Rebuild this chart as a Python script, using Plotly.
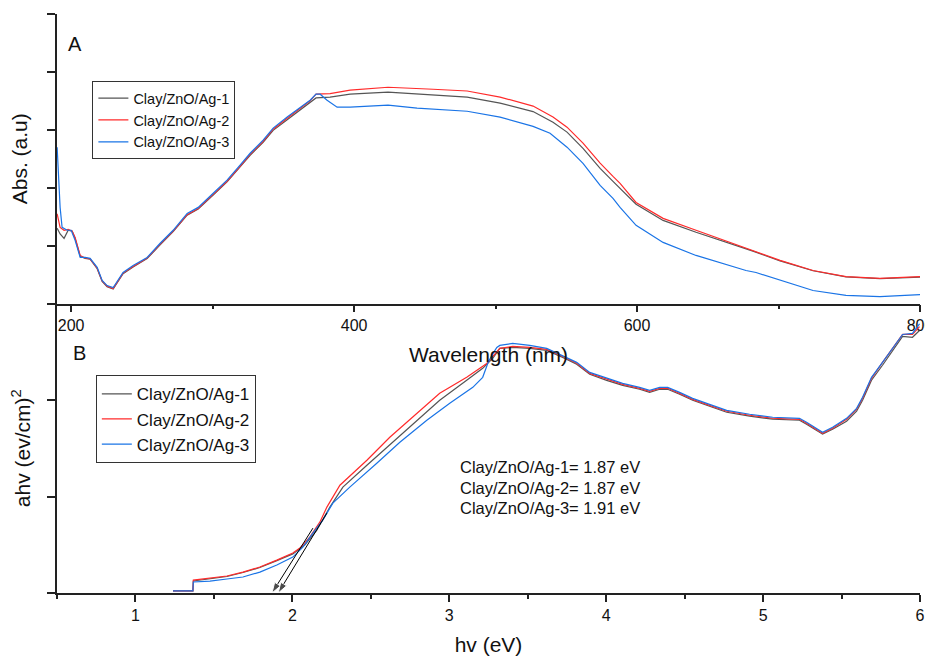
import plotly.graph_objects as go

FONT = "Liberation Sans, Arial, sans-serif"
labels = ["Clay/ZnO/Ag-1", "Clay/ZnO/Ag-2", "Clay/ZnO/Ag-3"]
colors = ["#555555", "#ff2b2b", "#1a74e6"]

# ---------------- Panel A : absorbance vs wavelength ----------------
wl_ag1 = [190.1,192.2,195.0,197.9,200.7,202.8,206.4,209.9,213.4,218.4,221.9,225.4,229.7,233.2,236.7,243.8,253.7,262.9,272.1,282.0,289.8,300.4,310.2,319.4,326.5,335.7,342.8,352.7,361.8,368.9,373.1,383.0,397.2,424.0,455.8,479.9,503.2,526.5,540.6,550.5,561.8,573.9,583.0,588.0,599.3,618.4,641.7,681.9,701.1,724.4,747.7,771.7,800.0]
abs_ag1 = [0.26,0.24,0.225,0.253,0.25,0.225,0.163,0.156,0.153,0.12,0.076,0.058,0.05,0.076,0.103,0.126,0.155,0.203,0.248,0.305,0.326,0.375,0.42,0.472,0.512,0.557,0.598,0.635,0.668,0.693,0.710,0.713,0.723,0.730,0.720,0.713,0.692,0.663,0.626,0.592,0.536,0.467,0.422,0.398,0.343,0.287,0.246,0.181,0.147,0.113,0.092,0.086,0.091]

wl_ag2 = [190.1,192.2,195.0,197.9,200.7,202.8,206.4,209.9,213.4,218.4,221.9,225.4,229.7,233.2,236.7,243.8,253.7,262.9,272.1,282.0,289.8,300.4,310.2,319.4,326.5,335.7,342.8,352.7,361.8,368.9,373.1,383.0,397.2,424.0,455.8,479.9,503.2,526.5,540.6,550.5,561.8,573.9,583.0,588.0,599.3,618.4,641.7,681.9,701.1,724.4,747.7,771.7,800.0]
abs_ag2 = [0.31,0.263,0.253,0.256,0.25,0.228,0.166,0.157,0.154,0.122,0.078,0.06,0.052,0.078,0.105,0.128,0.157,0.205,0.25,0.307,0.328,0.377,0.422,0.474,0.515,0.56,0.602,0.64,0.675,0.70,0.723,0.725,0.737,0.747,0.740,0.734,0.713,0.682,0.644,0.609,0.554,0.485,0.439,0.415,0.349,0.294,0.253,0.183,0.149,0.114,0.093,0.087,0.093]

wl_ag3 = [190.1,192.2,193.6,197.2,200.0,202.8,206.4,209.9,213.4,218.4,221.9,225.4,229.7,233.2,236.7,243.8,253.7,262.9,272.1,282.0,289.8,300.4,310.2,319.4,326.5,335.7,342.8,352.7,361.8,368.9,373.1,376.0,380.9,388.0,397.2,409.2,424.0,444.5,479.9,503.2,526.5,538.5,550.5,561.8,573.9,583.0,588.0,599.3,618.4,641.7,677.0,684.1,701.1,724.4,747.7,771.7,800.0]
abs_ag3 = [0.540,0.332,0.263,0.253,0.253,0.218,0.159,0.159,0.156,0.125,0.080,0.062,0.055,0.080,0.107,0.131,0.159,0.208,0.253,0.311,0.332,0.381,0.426,0.478,0.519,0.564,0.606,0.644,0.678,0.702,0.723,0.723,0.702,0.678,0.678,0.682,0.685,0.675,0.664,0.644,0.612,0.588,0.540,0.484,0.408,0.363,0.332,0.270,0.211,0.166,0.114,0.107,0.080,0.045,0.028,0.024,0.031]

# ---------------- Panel B : Tauc plot ----------------
ev_ag1 = [1.239,1.366,1.369,1.475,1.583,1.685,1.793,1.901,2.003,2.080,2.156,2.239,2.322,2.475,2.640,2.793,2.939,3.111,3.213,3.277,3.322,3.404,3.513,3.621,3.723,3.812,3.895,4.003,4.105,4.213,4.277,4.341,4.392,4.468,4.551,4.659,4.768,4.914,5.061,5.232,5.277,5.379,5.443,5.532,5.596,5.634,5.691,5.761,5.838,5.889,5.952,5.997]
tauc_ag1 = [0.021,0.021,0.124,0.150,0.171,0.212,0.264,0.336,0.405,0.500,0.652,0.890,1.097,1.324,1.562,1.790,1.997,2.204,2.328,2.431,2.535,2.545,2.535,2.514,2.442,2.370,2.266,2.204,2.152,2.111,2.080,2.111,2.111,2.059,1.997,1.935,1.873,1.832,1.801,1.790,1.749,1.646,1.697,1.780,1.884,1.998,2.205,2.360,2.540,2.660,2.650,2.720]

ev_ag2 = [1.239,1.366,1.369,1.475,1.583,1.685,1.793,1.901,2.003,2.048,2.111,2.175,2.220,2.303,2.475,2.621,2.793,2.939,3.111,3.239,3.322,3.404,3.513,3.621,3.723,3.812,3.895,4.003,4.105,4.213,4.277,4.341,4.392,4.468,4.551,4.659,4.768,4.914,5.061,5.232,5.277,5.379,5.443,5.532,5.596,5.634,5.691,5.761,5.838,5.889,5.952,5.997]
tauc_ag2 = [0.021,0.021,0.134,0.155,0.176,0.217,0.269,0.341,0.414,0.466,0.579,0.734,0.890,1.117,1.376,1.614,1.862,2.069,2.235,2.379,2.535,2.555,2.545,2.524,2.452,2.380,2.276,2.214,2.162,2.121,2.090,2.121,2.121,2.069,2.007,1.945,1.883,1.842,1.811,1.800,1.759,1.656,1.707,1.800,1.904,2.018,2.225,2.390,2.566,2.680,2.680,2.760]

ev_ag3 = [1.239,1.366,1.369,1.475,1.583,1.685,1.793,1.901,2.003,2.067,2.131,2.194,2.258,2.366,2.538,2.685,2.857,3.003,3.150,3.213,3.245,3.271,3.303,3.322,3.404,3.513,3.621,3.723,3.812,3.895,4.003,4.105,4.213,4.277,4.341,4.392,4.468,4.551,4.659,4.768,4.914,5.061,5.232,5.277,5.379,5.443,5.532,5.596,5.634,5.691,5.761,5.838,5.889,5.952,5.997]
tauc_ag3 = [0.021,0.021,0.114,0.124,0.145,0.166,0.217,0.290,0.372,0.476,0.621,0.755,0.931,1.097,1.345,1.562,1.790,1.966,2.131,2.235,2.379,2.462,2.545,2.566,2.586,2.566,2.535,2.462,2.390,2.286,2.224,2.172,2.131,2.100,2.131,2.131,2.079,2.017,1.955,1.893,1.852,1.821,1.810,1.769,1.666,1.717,1.810,1.914,2.028,2.235,2.390,2.566,2.679,2.690,2.790]

# band gaps and tangent (extrapolation) lines: start point -> x-intercept
band_gaps = [1.87, 1.87, 1.91]
tangent_start_ev = [2.131, 2.220]
tangent_start_val = [0.672, 0.828]
arrow_gaps = [1.87, 1.91]

fig = go.Figure()
A = [(wl_ag1, abs_ag1), (wl_ag2, abs_ag2), (wl_ag3, abs_ag3)]
B = [(ev_ag1, tauc_ag1), (ev_ag2, tauc_ag2), (ev_ag3, tauc_ag3)]
for i in range(3):
    fig.add_trace(go.Scatter(x=A[i][0], y=A[i][1], mode="lines", name=labels[i],
                             line=dict(color=colors[i], width=1.2), xaxis="x", yaxis="y",
                             legend="legend"))
for i in range(3):
    fig.add_trace(go.Scatter(x=B[i][0], y=B[i][1], mode="lines", name=labels[i],
                             line=dict(color=colors[i], width=1.2), xaxis="x2", yaxis="y2",
                             legend="legend2"))
for k in range(2):
    fig.add_trace(go.Scatter(x=[tangent_start_ev[k], arrow_gaps[k]], y=[tangent_start_val[k], 0],
                             mode="lines+markers", showlegend=False, hoverinfo="skip",
                             line=dict(color="black", width=1),
                             marker=dict(symbol="arrow", size=[0, 11], color="black",
                                         angleref="previous"),
                             xaxis="x2", yaxis="y2", cliponaxis=False))

axcol = "#222"
common = dict(showgrid=False, zeroline=False, showline=True, linecolor=axcol, linewidth=1.5,
              tickcolor=axcol, tickwidth=1.5, automargin=False)

# page body has an 8px default margin: the figure is sized so the plot area lands
# at x 57..920 and y 14..593 of the 933x657 window
fig.update_layout(
    width=925, height=649,
    margin=dict(l=49, r=13, t=6, b=64),
    paper_bgcolor="white", plot_bgcolor="white",
    font=dict(family=FONT, color="#111", size=16),
    xaxis=dict(**common, domain=[0, 1], anchor="y", range=[190, 800], tickmode="linear",
               tick0=200, dtick=200, ticks="outside", ticklen=7, ticklabeloverflow="allow",
               minor=dict(ticks="outside", ticklen=4, dtick=100, tick0=200, tickcolor=axcol, tickwidth=1.5),
               tickfont=dict(size=16), ticklabelstandoff=0,
               title=dict(text="Wavelength (nm)", font=dict(size=21), standoff=14)),
    xaxis3=dict(**common, overlaying="x", anchor="y", side="top", range=[0, 10], dtick=1,
                ticks="inside", ticklen=5, showticklabels=False),
    yaxis=dict(**common, domain=[0.5, 1], anchor="x", range=[0, 1], dtick=0.2,
               ticks="outside", ticklen=8, showticklabels=False,
               title=dict(text="Abs. (a.u)", font=dict(size=21), standoff=14)),
    yaxis3=dict(**common, overlaying="y", anchor="x", side="right", range=[0, 10], dtick=1,
                ticks="inside", ticklen=5, showticklabels=False),
    xaxis2=dict(**common, domain=[0, 1], anchor="y2", range=[0.5, 6], dtick=1,
                ticks="outside", ticklen=7, ticklabeloverflow="allow",
                minor=dict(ticks="outside", ticklen=4, dtick=0.5, tick0=0.5, tickcolor=axcol, tickwidth=1.5),
                tickfont=dict(size=16), ticklabelstandoff=0,
                title=dict(text="hv (eV)", font=dict(size=21), standoff=14)),
    yaxis2=dict(**common, domain=[0, 0.5], anchor="x2", range=[0, 3], dtick=1,
                ticks="outside", ticklen=8, showticklabels=False,
                title=dict(text="ahv (ev/cm)<sup>2</sup>", font=dict(size=21), standoff=12)),
    yaxis4=dict(**common, overlaying="y2", anchor="x2", side="right", range=[0, 10], dtick=1,
                ticks="inside", ticklen=5, showticklabels=False),
    legend=dict(x=0.041, y=0.884, xanchor="left", yanchor="top", bgcolor="white",
                bordercolor="#333", borderwidth=1, font=dict(size=14.5), tracegroupgap=0,
                itemwidth=30),
    legend2=dict(x=0.045, y=0.376, xanchor="left", yanchor="top", bgcolor="white",
                 bordercolor="#333", borderwidth=1, font=dict(size=17), tracegroupgap=0,
                 itemwidth=30),
    showlegend=True,
)

# panel letters
fig.add_annotation(text="A", x=0.0209, y=0.948, xref="paper", yref="paper", showarrow=False,
                   font=dict(size=20), xanchor="center", yanchor="middle")
fig.add_annotation(text="B", x=0.0255, y=0.415, xref="paper", yref="paper", showarrow=False,
                   font=dict(size=20), xanchor="center", yanchor="middle")

# band gap text
gap_rows_y = [0.2176, 0.1822, 0.1468]
for i in range(3):
    fig.add_annotation(text=f"{labels[i]}= {band_gaps[i]:.2f} eV", x=0.465, y=gap_rows_y[i],
                       xref="paper", yref="paper", showarrow=False,
                       font=dict(size=16.5), xanchor="left", yanchor="middle", align="left")

fig.write_html("out.html")
